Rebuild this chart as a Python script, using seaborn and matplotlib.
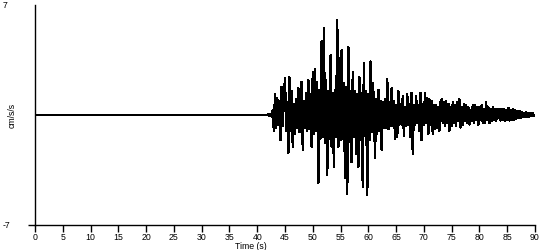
import numpy as np
import pandas as pd
import matplotlib
matplotlib.use("Agg")
import matplotlib.pyplot as plt
import seaborn as sns

# ---- data ----
baseline_times = [0.0, 42.0]
baseline_values = [0.0, 0.0]
event_start = 42.0
event_step = 0.2
event_values = [
    0.05, -0.05, 0.05, -0.1, 0.3,
    -1.0, 1.3, -0.8, 1.1, -0.6,
    0.9, -1.6, 1.8, -0.7, 1.2,
    2.35, -1.0, 0.8, -2.4, 2.4,
    -1.0, 1.5, -2.0, 0.7, -1.2,
    1.0, -0.8, 1.7, -1.1, 0.9,
    2.1, -2.2, 0.9, -0.8, 1.4,
    -1.0, 2.2, -0.9, 1.3, -2.0,
    2.7, -1.2, 2.9, -1.0, 2.1,
    -4.3, 1.6, -1.5, 4.7, -1.4,
    5.5, -1.8, 2.2, -3.8, 1.5,
    -1.5, 3.8, -2.0, 1.4, -3.3,
    1.6, -1.4, 6.05, -2.0, 3.6,
    -1.6, 4.1, -1.5, 2.0, -4.0,
    1.8, -5.0, 4.3, -1.7, 1.5,
    -3.0, 2.7, -1.4, 1.5, -2.5,
    1.3, -3.3, 2.4, -1.6, 1.4,
    -4.6, 3.3, -1.3, 1.5, -5.1,
    1.3, -1.6, 3.4, -1.1, 2.0,
    0.9, -2.7, 1.0, -1.2, 1.6,
    -1.0, 0.9, -2.2, 0.8, -0.8,
    1.0, -0.8, 2.3, -0.9, 0.8,
    -0.7, 1.7, -0.7, 0.9, -1.5,
    0.6, -1.4, 1.5, -0.6, 0.7,
    -0.6, 1.2, -1.3, 0.5, -0.7,
    1.3, -0.6, 0.7, -1.4, 1.4,
    -2.5, 0.6, -0.6, 1.2, -0.5,
    0.6, -1.0, 1.4, -1.6, 0.7,
    -0.6, 1.4, -0.5, 1.1, -1.2,
    1.0, -0.6, 0.9, -1.2, 0.6,
    -0.9, 0.6, -0.8, 0.5, -1.0,
    0.8, 1.0, -0.5, 0.8, -0.7,
    0.9, -0.5, 0.7, -1.0, 0.5,
    -0.7, 0.8, -0.5, 0.6, -0.7,
    0.8, -0.4, 1.0, -0.8, 0.5,
    -0.6, 0.7, -0.4, 0.6, -0.5,
    0.5, -0.6, 0.3, -0.4, 0.6,
    -0.5, 0.6, -0.3, 0.5, -0.6,
    0.5, -0.3, 0.6, -0.5, 0.4,
    -0.5, 0.8, -0.3, 0.5, -0.5,
    0.4, -0.4, 0.5, -0.3, 0.4,
    -0.4, 0.35, -0.2, 0.4, -0.35,
    0.4, -0.3, 0.35, -0.4, 0.3,
    -0.3, 0.45, -0.35, 0.3, -0.3,
    0.35, -0.3, 0.3, -0.25, 0.25,
    -0.2, 0.25, -0.2, 0.2, -0.15,
    0.15, -0.15, 0.2, -0.1, 0.15,
    -0.1, 0.12, -0.08, 0.1, -0.05,
    0.0,
]
x_ticks = list(range(0, 91, 5))
y_ticks = [-7, 7]
y_tick_labels = ["-7", "7"]
x_label = "Time (s)"
y_label = "cm/s/s"

# ---- build table ----
event_times = event_start + event_step * np.arange(len(event_values))
df = pd.DataFrame({
    "t": np.concatenate([baseline_times, event_times]),
    "a": np.concatenate([baseline_values, event_values]),
})

sns.set_theme(style="ticks")
plt.rcParams["font.family"] = ["Liberation Sans", "DejaVu Sans"]
fs = 6.3

fig = plt.figure(figsize=(5.5, 2.5), dpi=100)
ax = fig.add_axes([35 / 550, 25 / 250, 500 / 550, 220 / 250])

sns.lineplot(data=df, x="t", y="a", ax=ax, color="black", linewidth=1.0,
             estimator=None, sort=False, antialiased=False)

ax.set_xlim(0, 90)
ax.set_ylim(-7, 7)
for s in ["top", "right"]:
    ax.spines[s].set_visible(False)
for s in ["left", "bottom"]:
    ax.spines[s].set_color("black")
    ax.spines[s].set_linewidth(1.0)

ax.set_xticks(x_ticks)
ax.set_xticklabels([str(v) for v in x_ticks])
ax.tick_params(axis="x", direction="out", length=5, width=1, color="black",
               labelsize=fs, pad=0.5, labelcolor="black")
ax.set_yticks(y_ticks)
ax.set_yticklabels(y_tick_labels)
ax.tick_params(axis="y", direction="out", length=5, width=1, color="black",
               labelsize=fs, pad=18, labelcolor="black")
for lbl in ax.get_yticklabels():
    lbl.set_horizontalalignment("left")
ax.yaxis.get_major_ticks()[1].tick1line.set_visible(False)

ax.set_xlabel(x_label, fontsize=fs, color="black")
ax.xaxis.set_label_coords(216 / 500, -17 / 220)
ax.set_ylabel(y_label, fontsize=fs, color="black")
ax.yaxis.set_label_coords(-23 / 500, 0.5)
ax.yaxis.label.set_verticalalignment("center")
ax.grid(False)

fig.savefig("out.png", dpi=100, facecolor="white")
